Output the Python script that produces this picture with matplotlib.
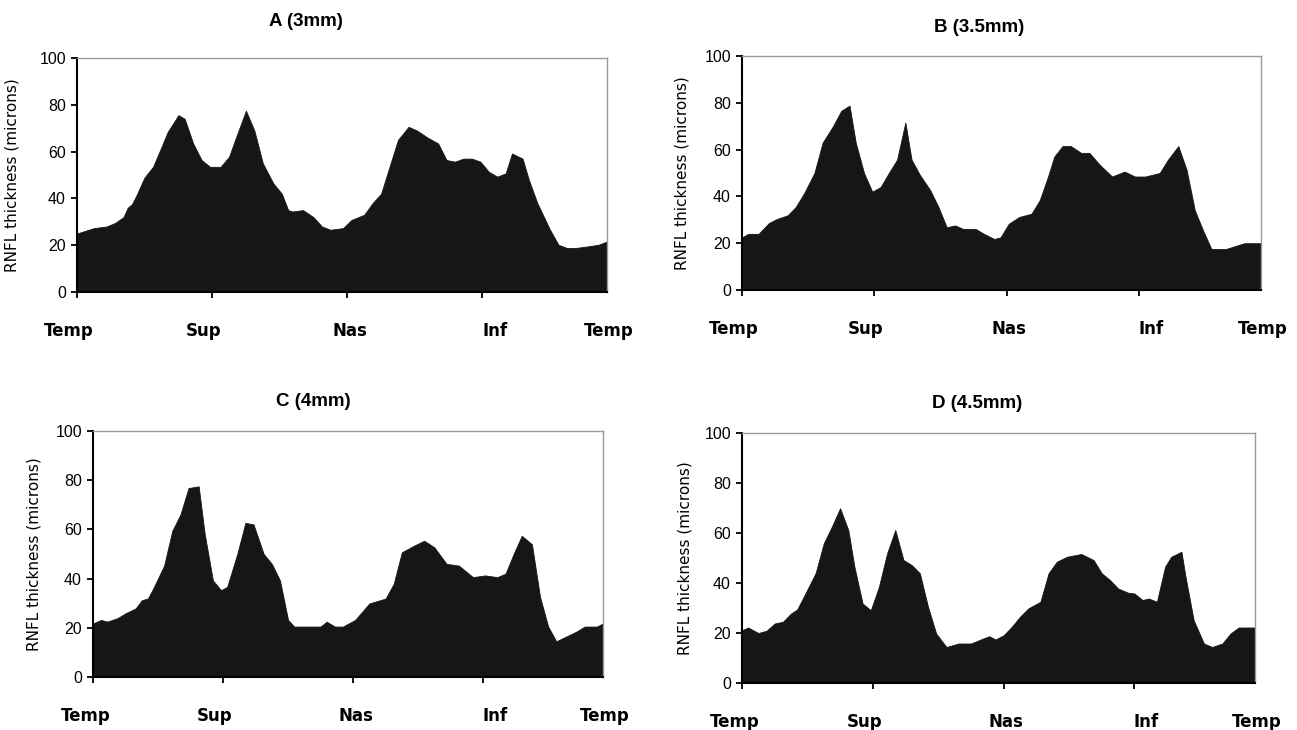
import matplotlib.pyplot as plt

# RNFL thickness profiles (microns) vs scan sample index
a_pos = [0, 8, 14, 18, 22, 24, 26, 28, 32, 36, 40, 43, 46, 48, 51, 55, 59, 63, 68, 72,
         76, 80, 84, 88, 93, 97, 100, 102, 107, 112, 116, 120, 126, 130, 136, 140, 144,
         148, 152, 157, 161, 166, 171, 175, 179, 183, 187, 191, 195, 199, 203, 206, 211,
         214, 218, 224, 228, 232, 236, 242, 247, 251]
a_rnfl = [25, 27.3, 28, 29.5, 32, 36, 37.5, 41, 49, 53.5, 62, 68.5, 72.7, 75.6, 74, 63.5,
          56.4, 53.5, 53.5, 57.8, 67.8, 77.5, 69, 55, 46.4, 42, 35, 34.4, 35, 32, 28, 26.6,
          27.3, 30.8, 33, 38, 42, 53.5, 65, 70.6, 69, 66, 63.5, 56.4, 55.7, 57, 57, 55.7,
          51.4, 49.3, 50.7, 59.2, 57, 47.9, 38, 26.6, 20.2, 18.8, 18.8, 19.5, 20.2, 21.6]

b_pos = [0, 3, 8, 13, 17, 22, 26, 30, 35, 39, 44, 48, 52, 55, 59, 63, 67, 71, 75, 79, 82,
         86, 91, 95, 99, 103, 107, 113, 117, 122, 125, 129, 134, 140, 144, 148, 151, 155,
         159, 164, 168, 173, 179, 185, 190, 195, 202, 206, 211, 215, 219, 223, 227, 234,
         239, 243, 251]
b_rnfl = [22.5, 24, 24, 28.6, 30.4, 31.9, 35.5, 41.3, 50, 63, 70, 76.6, 78.8, 63, 50, 42,
          44, 50, 55.7, 71.6, 55.7, 49.2, 42.7, 35.5, 26.8, 27.6, 26.1, 26.1, 24, 21.8,
          22.5, 28.3, 31.2, 32.6, 38.4, 48.5, 57, 61.5, 61.5, 58.6, 58.6, 53.5, 48.5, 50.6,
          48.5, 48.5, 50, 55.7, 61.5, 51.4, 34, 25.4, 17.5, 17.5, 18.9, 20, 20]

c_pos = [0, 4, 7, 12, 16, 21, 24, 27, 30, 35, 39, 43, 47, 52, 55, 59, 63, 66, 71, 75, 79,
         84, 88, 92, 96, 99, 109, 112, 115, 119, 123, 129, 136, 144, 148, 152, 158, 163,
         168, 174, 180, 187, 193, 199, 203, 207, 211, 216, 220, 224, 228, 233, 238, 242,
         248, 251]
c_rnfl = [21.8, 23.2, 22.5, 23.9, 25.9, 27.9, 31.2, 31.9, 36.6, 45.3, 59.4, 66, 76.8, 77.5,
          58, 39.3, 35.3, 36.6, 50, 62.7, 62, 50, 46, 39.3, 23.2, 20.5, 20.5, 20.5, 22.5,
          20.5, 20.5, 23.2, 29.9, 31.9, 37.9, 50.7, 53.4, 55.4, 52.7, 46, 45.3, 40.6, 41.3,
          40.6, 42, 50, 57.4, 54, 32.6, 20.5, 14.5, 16.5, 18.5, 20.5, 20.5, 21.8]

d_pos = [0, 3, 8, 12, 16, 20, 24, 27, 31, 36, 40, 44, 48, 52, 55, 59, 63, 67, 71, 75, 79,
         83, 87, 91, 95, 100, 106, 112, 118, 121, 124, 128, 132, 136, 140, 146, 150, 154,
         159, 166, 172, 176, 180, 184, 189, 192, 196, 199, 203, 207, 210, 215, 217, 221,
         226, 230, 235, 239, 243, 251]
d_rnfl = [21.1, 22.2, 20, 20.9, 23.8, 24.5, 27.8, 29.4, 35.8, 43.9, 55.9, 62.6, 69.9, 61.2,
          46.5, 31.8, 29.1, 38.5, 51.9, 61.2, 49.2, 47.2, 43.9, 30.5, 19.8, 14.4, 15.8, 15.8,
          17.8, 18.7, 17.4, 19.1, 22.5, 26.5, 29.8, 32.5, 43.9, 48.5, 50.5, 51.6, 49.2, 43.9,
          41.2, 37.8, 36.1, 35.8, 33.2, 33.8, 32.5, 46.5, 50.5, 52.5, 42.5, 25.1, 15.8, 14.4,
          15.8, 19.8, 22.2, 22.2]

titles = ['A (3mm)', 'B (3.5mm)', 'C (4mm)', 'D (4.5mm)']
sectors = ['Temp', 'Sup', 'Nas', 'Inf', 'Temp']
sector_ticks = [0, 64, 128, 192]
yticks = [0, 20, 40, 60, 80, 100]

W, H = 1297, 730
# axes boxes in pixels: left, top, right, bottom
boxes = [(77, 58, 607, 292), (742, 56, 1261, 290), (93, 431, 603, 677), (742, 433, 1255, 683)]
title_xy = [(306, 22), (979, 28), (313, 401), (977, 404)]
ylab_dx = [65, 60, 59, 57]
label_frac = [-0.015, 0.238, 0.515, 0.788, 1.003]

data = [(a_pos, a_rnfl), (b_pos, b_rnfl), (c_pos, c_rnfl), (d_pos, d_rnfl)]

fig = plt.figure(figsize=(W / 100, H / 100), dpi=100)

for i, (pos, rnfl) in enumerate(data):
    l, t, r, b = boxes[i]
    ax = fig.add_axes([l / W, 1 - b / H, (r - l) / W, (b - t) / H])
    ax.fill_between(pos, rnfl, color='#161616', linewidth=0.6, edgecolor='#161616')
    ax.set_xlim(0, 251)
    ax.set_ylim(0, 100)
    ax.set_xticks(sector_ticks)
    ax.set_xticklabels([])
    ax.set_yticks(yticks)
    ax.set_yticklabels([str(v) for v in yticks], fontfamily='Liberation Sans', fontsize=11.5)
    ax.tick_params(axis='both', direction='out', length=4.5, width=1.3, color='black')
    ax.tick_params(axis='y', pad=3.5)
    for s in ['left', 'bottom']:
        ax.spines[s].set_linewidth(1.5)
        ax.spines[s].set_color('black')
    for s in ['top', 'right']:
        ax.spines[s].set_linewidth(1.0)
        ax.spines[s].set_color('#9a9a9a')

    ax.text(-ylab_dx[i] / (r - l), 0.5, 'RNFL thickness (microns)', transform=ax.transAxes,
            rotation=90, ha='center', va='center', fontsize=11, fontfamily='DejaVu Sans')

    for name, fx in zip(sectors, label_frac):
        ax.annotate(name, xy=(fx, 0), xycoords='axes fraction', xytext=(0, -28),
                    textcoords='offset points', ha='center', va='center',
                    fontsize=12, fontweight='bold', fontfamily='DejaVu Sans')

    tx, ty = title_xy[i]
    fig.text(tx / W, 1 - ty / H, titles[i], ha='center', va='center', fontsize=13.5,
             fontweight='bold', fontfamily=['Liberation Sans Narrow', 'Liberation Sans'])

fig.savefig('out.png', dpi=100, facecolor='white')
